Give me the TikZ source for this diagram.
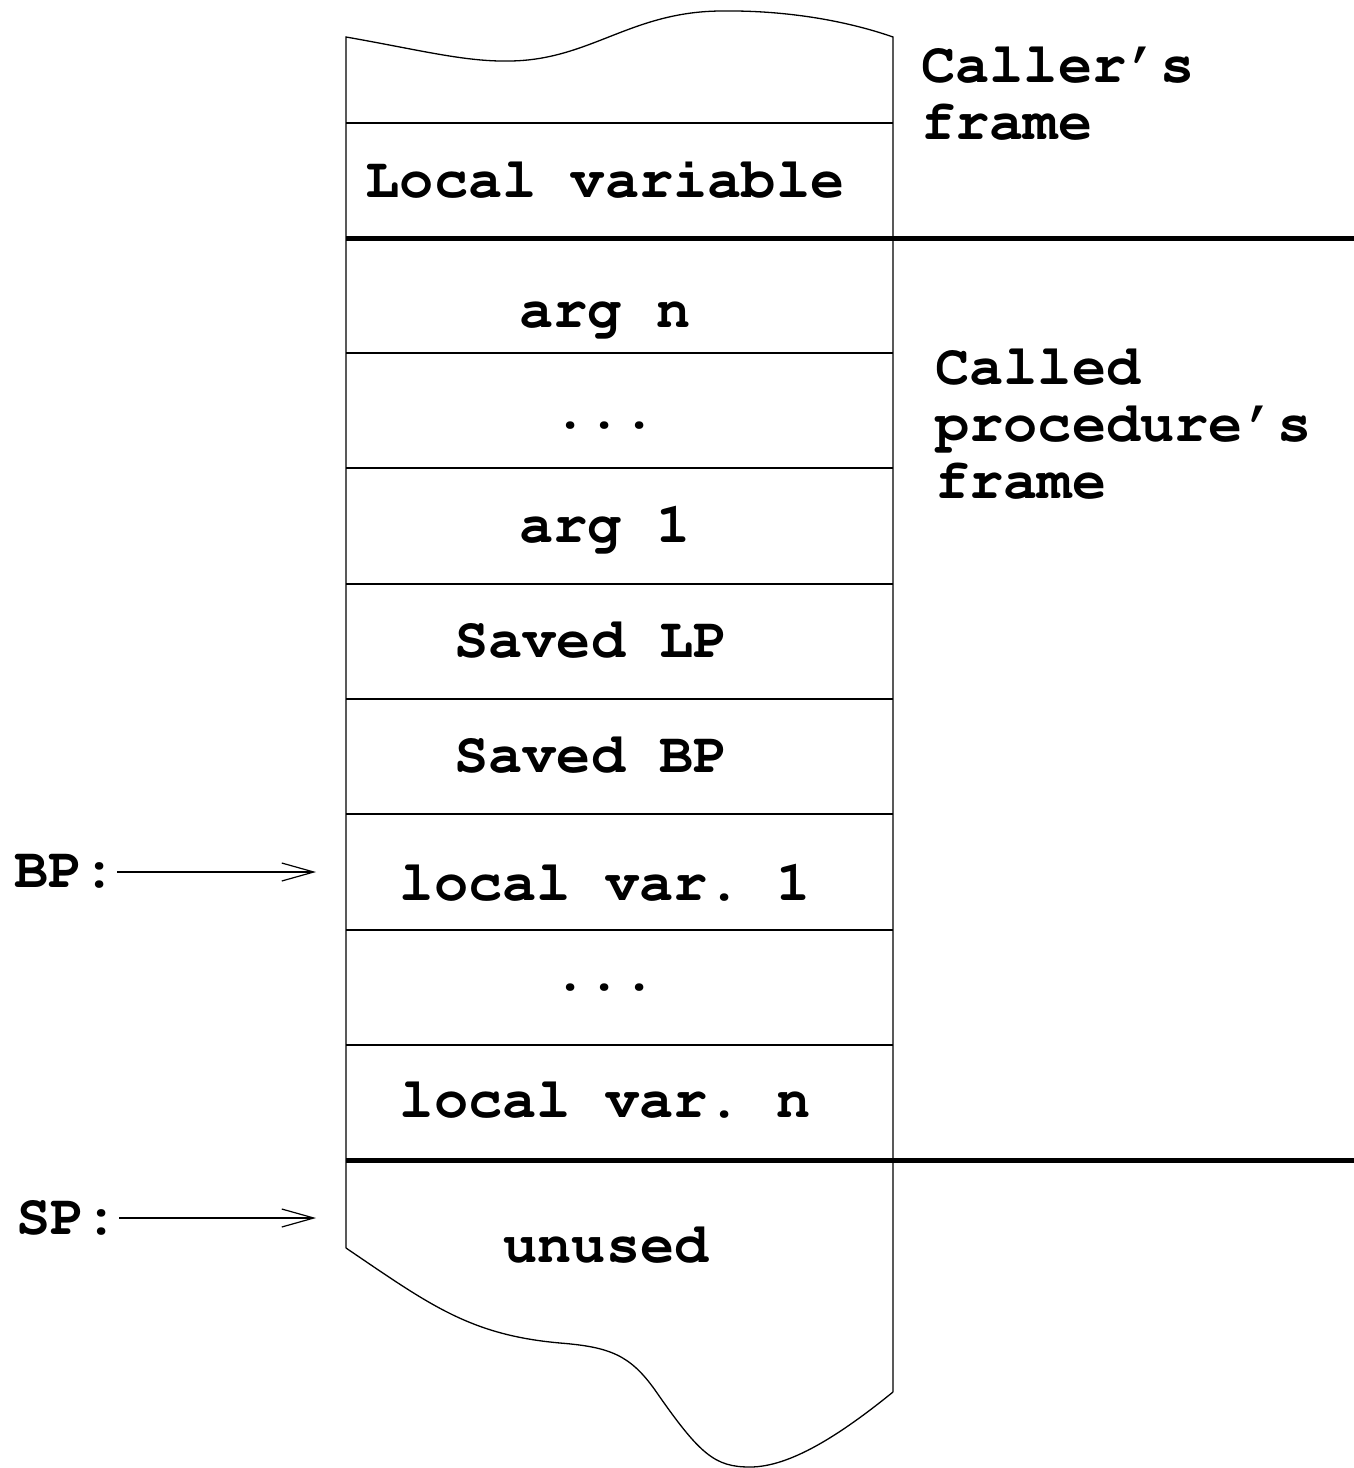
\documentclass[tikz,border=0pt]{standalone}
\usepackage[T1]{fontenc}
\usepackage{courier}
\usetikzlibrary{arrows.meta}
\frenchspacing
\begin{document}
\begin{tikzpicture}[x=1pt,y=-1pt,
  thin line/.style={line width=1.3pt},
  thick line/.style={line width=5pt},
  lbl/.style={font=\fontsize{57}{58}\selectfont\ttfamily\bfseries\frenchspacing, inner sep=0pt},
  cell/.style={lbl, anchor=base},
  side/.style={lbl, anchor=base west},
  ptr/.style={line width=1.2pt, -{Straight Barb[length=32pt,width=18pt,line width=1.2pt]}}]
\useasboundingbox (0,0) rectangle (1354,1468);
% column outline
\draw[thin line] (346,1248) -- (346,37)
  .. controls (420,50) and (465,62) .. (510,61)
  .. controls (590,60) and (630,12) .. (720,11)
  .. controls (790,10) and (850,22) .. (893,37)
  -- (893,1392);
\draw[thin line] (346,1248)
  .. controls (430,1305) and (470,1335) .. (560,1343)
  .. controls (610,1347) and (630,1355) .. (655,1390)
  .. controls (700,1455) and (715,1467) .. (750,1467)
  .. controls (790,1467) and (840,1435) .. (893,1392);
% separators
\foreach \y in {123,353,468,584,699,814,930,1045}
  \draw[thin line] (346,\y) -- (893,\y);
\draw[thick line] (346,238) -- (1354,238);
\draw[thick line] (346,1160) -- (1354,1160);
% cell texts
\node[cell] (lv) at (605,197) {Local variable};
\node[cell] (argn) at (605,327) {arg n};
\node[cell] (dots1) at (605,428) {...};
\node[cell] (arg1) at (605,542) {arg 1};
\node[cell] (slp) at (591,657) {Saved LP};
\node[cell] (sbp) at (591,772) {Saved BP};
\node[cell] (lv1) at (605,900) {local var. 1};
\node[cell] (dots2) at (605,990) {...};
\node[cell] (lvn) at (605,1117) {local var. n};
\node[cell] (unused) at (606,1262) {unused};
% side labels
\node[side] (caller1) at (921,82) {Caller's};
\node[side] (caller2) at (921,139) {frame};
\node[side] (called1) at (935,384) {Called};
\node[side] (called2) at (935,441) {procedure's};
\node[side] (called3) at (935,498) {frame};
% pointers
\node[lbl, anchor=east] (bp) at (117,872) {BP:};
\node[lbl, anchor=east] (sp) at (119,1218) {SP:};
\coordinate (bptip) at (316,872);
\coordinate (sptip) at (316,1218);
\draw[ptr] (bp.east) -- (bptip);
\draw[ptr] (sp.east) -- (sptip);
\end{tikzpicture}
\end{document}
